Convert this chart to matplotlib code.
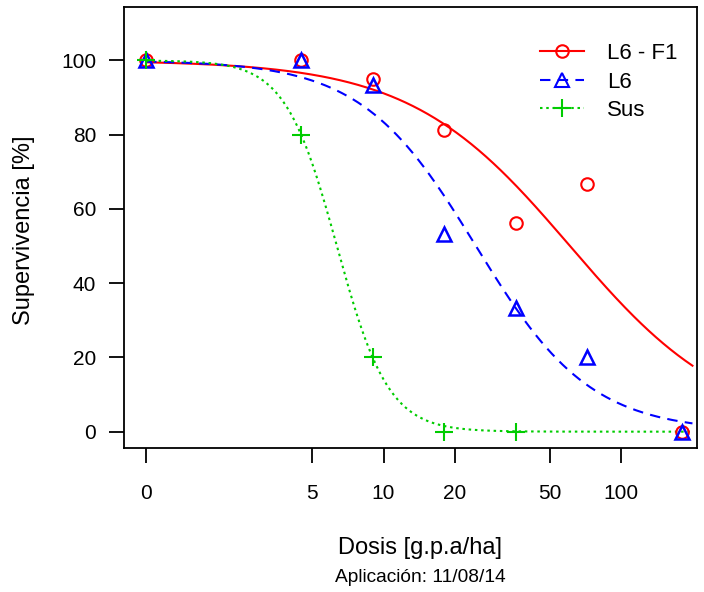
import numpy as np
import matplotlib.pyplot as plt
from matplotlib.lines import Line2D

plt.rcParams['font.family'] = ['Liberation Sans', 'DejaVu Sans']

# observed survival (%) per dose (g.p.a/ha)
dosis = [0, 4.5, 9, 18, 36, 72, 180]
surv_l6f1 = [100, 100, 95, 81.25, 56.25, 66.7, 0]
surv_l6 = [100, 100, 93.3, 53.3, 33.3, 20, 0]
dosis_sus = [0, 4.5, 9, 18, 36]
surv_sus = [100, 80, 20, 0, 0]

# fitted log-logistic parameters (b, d, e)
par_l6f1 = (1.29, 100, 61.0)
par_l6 = (1.80, 100, 24.5)
par_sus = (4.0, 100, 6.36)

labels = ["L6 - F1", "L6", "Sus"]
colores = ["#ff0000", "#0000ff", "#00cc00"]

bp = 1.0  # position where dose 0 is drawn on the log axis


def ll3(x, b, d, e):
    return d / (1 + np.exp(b * (np.log(x) - np.log(e))))


def pos(d):
    return [bp if v == 0 else v for v in d]


fig = plt.figure(figsize=(7.04, 5.92), dpi=100)
ax = fig.add_axes([124/704, 1-448/592, (697-124)/704, (448-7)/592])

xx = np.geomspace(bp, 200, 300)
estilos = ["-", (0, (5, 3.5)), (0, (1.2, 1.8))]
marcadores = ["o", "^", "+"]

ax.plot(xx, ll3(xx, *par_l6f1), color=colores[0], ls=estilos[0], lw=1.5)
ax.plot(xx, ll3(xx, *par_l6), color=colores[1], ls=estilos[1], lw=1.5)
ax.plot(xx, ll3(xx, *par_sus), color=colores[2], ls=estilos[2], lw=1.5)

ax.plot(pos(dosis), surv_l6f1, ls="none", marker="o", ms=9, mfc="none",
        mec=colores[0], mew=1.5)
ax.plot(pos(dosis), surv_l6, ls="none", marker="^", ms=10, mfc="none",
        mec=colores[1], mew=1.8)
ax.plot(pos(dosis_sus), surv_sus, ls="none", marker="+", ms=13,
        mec=colores[2], mew=1.5)

ax.set_xscale("log")
ax.set_xlim(0.807, 209)
ax.set_ylim(-4.4, 114.4)
ax.set_xticks([bp, 5, 10, 20, 50, 100])
ax.set_xticklabels(["0", "5", "10", "20", "50", "100"])
ax.xaxis.set_minor_locator(plt.NullLocator())
ax.set_yticks([0, 20, 40, 60, 80, 100])
ax.tick_params(axis="both", length=11, width=1.3, labelsize=15)
ax.tick_params(axis="x", pad=15)
ax.tick_params(axis="y", pad=9)
for s in ax.spines.values():
    s.set_linewidth(1.3)

fig.text(24/704, 1-230/592, "Supervivencia [%]", rotation=90, ha="center",
         va="center", fontsize=17)
fig.text(420/704, 1-548/592, "Dosis [g.p.a/ha]", ha="center", va="center", fontsize=17)
fig.text(420/704, 1-578/592, "Aplicación: 11/08/14", ha="center", va="center", fontsize=13.8)

handles = [Line2D([], [], color=c, ls=l, lw=1.5, marker=m, mfc="none", mec=c,
                  ms=ms, mew=1.5)
           for c, l, m, ms in zip(colores, estilos, marcadores, [9, 10, 13])]
ax.legend(handles, labels, loc="upper left", bbox_to_anchor=(540/704, 1-43/592),
          bbox_transform=fig.transFigure, borderpad=0, borderaxespad=0,
          frameon=False, fontsize=16, handlelength=2.0, handletextpad=1.0,
          labelspacing=0.34, numpoints=1)

fig.savefig("out.png", dpi=100)
